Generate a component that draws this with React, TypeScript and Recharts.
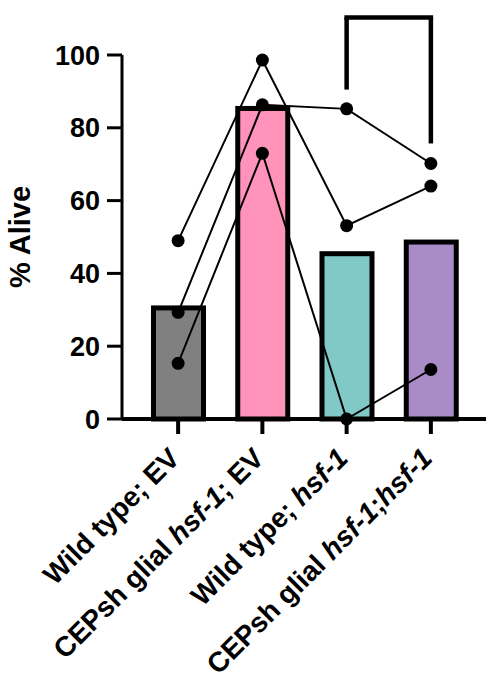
import React from 'react'
import { ComposedChart, Bar, Line, XAxis, YAxis, ReferenceLine, Label } from 'recharts'

const FONT = '"Liberation Sans", Arial, Helvetica, sans-serif'

const categories = ['Wild type; EV', 'CEPsh glial hsf-1; EV', 'Wild type; hsf-1', 'CEPsh glial hsf-1;hsf-1']
const meanAlive = [31.2, 86.0, 46.1, 49.3]
const replicateA = [49.0, 98.6, 53.1, 64.0]
const replicateB = [29.3, 86.3, 85.2, 70.2]
const replicateC = [15.3, 73.0, 0, 13.6]
const barColors = ['#808080', '#FF93BA', '#80C9C6', '#A98BC7']
const yTicks = [0, 20, 40, 60, 80, 100]

// comparison bracket between groups 3 and 4
const bracketTop = 110.3
const bracketLeftFoot = 90.5
const bracketRightFoot = 75.7

const data = categories.map((name, i) => ({
  name,
  mean: meanAlive[i],
  a: replicateA[i],
  b: replicateB[i],
  c: replicateC[i],
  color: barColors[i],
}))

// Prism-style bar: border drawn inside the bar outline
function InsetBar(props: any) {
  const { x, y, width, height, payload } = props
  const s = 5
  return (
    <rect
      x={x + s / 2}
      y={y + s / 2}
      width={width - s}
      height={Math.max(height - s / 2, 0)}
      fill={payload.color}
      stroke="#000"
      strokeWidth={s}
    />
  )
}

function CategoryTick(props: any) {
  const { x, y, payload } = props
  const parts = String(payload.value).split(/(hsf-1)/).filter((p) => p !== '')
  return (
    <g transform={`translate(${x + 3},${y + 26}) rotate(-45)`}>
      <text x={0} y={0} textAnchor="end" fontSize={28} fontWeight="bold" fontFamily={FONT} fill="#000">
        {parts.map((p, i) =>
          p === 'hsf-1' ? (
            <tspan key={i} fontStyle="italic">{p}</tspan>
          ) : (
            <tspan key={i}>{p}</tspan>
          )
        )}
      </text>
    </g>
  )
}

function YTitle(props: any) {
  const { viewBox } = props
  const cx = viewBox.x - 2
  const cy = viewBox.y + viewBox.height / 2
  return (
    <text
      x={cx}
      y={cy}
      transform={`rotate(-90, ${cx}, ${cy})`}
      textAnchor="middle"
      dominantBaseline="central"
      fontSize={29}
      fontWeight="bold"
      fontFamily={FONT}
      fill="#000"
    >
      % Alive
    </text>
  )
}

const dotStyle = { r: 6.5, fill: '#000', stroke: 'none' }

export default function App() {
  return (
    <div style={{ position: 'absolute', left: 0, top: 0, background: '#fff' }}>
      <ComposedChart width={490} height={687} data={data} margin={{ top: 55, right: 4, bottom: 0, left: 22 }}>
        <XAxis
          dataKey="name"
          type="category"
          height={268}
          padding={{ left: 14, right: 13 }}
          axisLine={{ stroke: '#000', strokeWidth: 4 }}
          tickLine={{ stroke: '#000', strokeWidth: 4 }}
          tickSize={15}
          tickMargin={0}
          interval={0}
          tick={<CategoryTick />}
        />
        <YAxis
          type="number"
          domain={[0, 100]}
          ticks={yTicks}
          width={100}
          axisLine={{ stroke: '#000', strokeWidth: 3 }}
          tickLine={{ stroke: '#000', strokeWidth: 3 }}
          tickSize={15}
          tickMargin={7}
          tick={{ fill: '#000', fontSize: 27, fontWeight: 'bold', fontFamily: FONT }}
        >
          <Label content={<YTitle />} />
        </YAxis>
        <Bar dataKey="mean" barSize={55} shape={<InsetBar />} isAnimationActive={false} />
        <Line type="linear" dataKey="a" stroke="#000" strokeWidth={2} dot={dotStyle} activeDot={false} isAnimationActive={false} />
        <Line type="linear" dataKey="b" stroke="#000" strokeWidth={2} dot={dotStyle} activeDot={false} isAnimationActive={false} />
        <Line type="linear" dataKey="c" stroke="#000" strokeWidth={2} dot={dotStyle} activeDot={false} isAnimationActive={false} />
        <ReferenceLine
          segment={[{ x: categories[2], y: bracketLeftFoot }, { x: categories[2], y: bracketTop }]}
          stroke="#000"
          strokeWidth={4.5}
          ifOverflow="visible"
        />
        <ReferenceLine
          segment={[{ x: categories[3], y: bracketRightFoot }, { x: categories[3], y: bracketTop }]}
          stroke="#000"
          strokeWidth={4.5}
          ifOverflow="visible"
        />
        <ReferenceLine
          segment={[{ x: categories[2], y: bracketTop }, { x: categories[3], y: bracketTop }]}
          stroke="#000"
          strokeWidth={4.5}
          strokeLinecap="square"
          ifOverflow="visible"
        />
      </ComposedChart>
    </div>
  )
}
